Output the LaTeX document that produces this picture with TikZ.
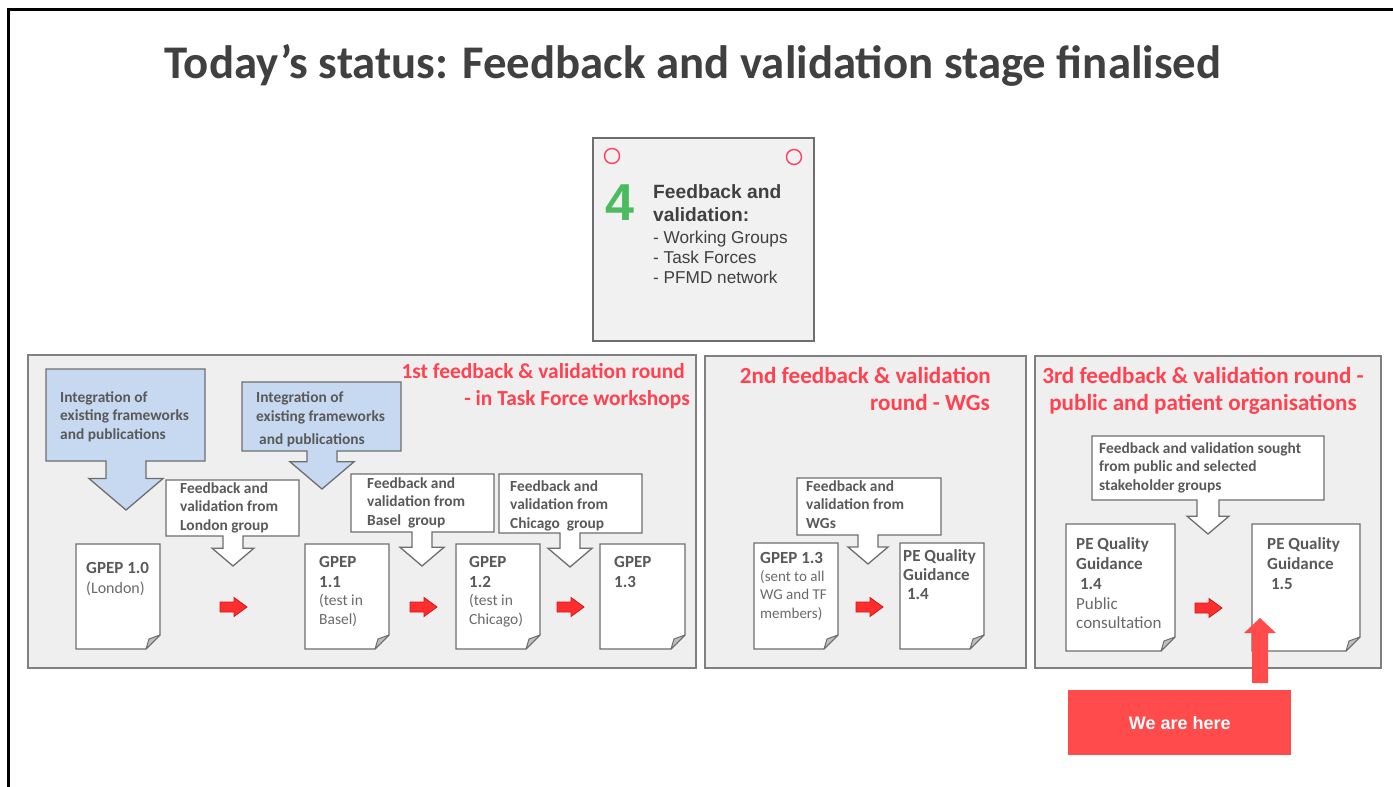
\documentclass[tikz,border=0pt]{standalone}
\usepackage{fontspec}
\setmainfont{Carlito}
\newfontfamily\arialf{Liberation Sans}
\definecolor{panelfill}{HTML}{EFEFEF}
\definecolor{panelline}{HTML}{808080}
\definecolor{callline}{HTML}{6E6E6E}
\definecolor{callblue}{HTML}{C6D9F0}
\definecolor{txtgray}{HTML}{595959}
\definecolor{txtlight}{HTML}{6A6A6A}
\definecolor{titlegray}{HTML}{404040}
\definecolor{roundred}{HTML}{FF4150}
\definecolor{arrred}{HTML}{FF2E2E}
\definecolor{arrredline}{HTML}{D01818}
\definecolor{herered}{HTML}{FF4B4B}
\definecolor{fourgreen}{HTML}{4CBB5F}
\definecolor{circred}{HTML}{FF4060}
\definecolor{foldgray}{HTML}{BFBFBF}
\tikzset{
  panel/.style={draw=panelline, fill=panelfill, line width=1.4pt, inner sep=0pt, outer sep=0pt, anchor=north west},
  bluecall/.style={draw=callline, fill=callblue, line width=1.3pt, line join=miter},
  whitecall/.style={draw=callline, fill=white, line width=1.3pt, line join=miter},
  docshape/.style={draw=callline, fill=white, line width=1.3pt},
  ctext/.style={anchor=base west, inner sep=0pt, align=left, text=txtgray, font=\fontsize{15.4}{18.5}\selectfont\bfseries},
  dtext/.style={anchor=base west, inner sep=0pt, align=left, text=txtgray, font=\fontsize{17}{20}\selectfont\bfseries},
  dreg/.style={anchor=base west, inner sep=0pt, align=left, text=txtlight, font=\fontsize{16}{19}\selectfont},
  roundtitle/.style={inner sep=0pt, text=roundred, font=\fontsize{21.4}{26}\selectfont\bfseries},
  roundtitlebig/.style={inner sep=0pt, text=roundred, font=\fontsize{23.1}{27}\selectfont\bfseries},
  smallarrow/.style={fill=arrred, draw=arrredline, line width=0.8pt},
}
% down callout: style, x1, y1, x2, y2, cx, stem half, head half, tip y
\newcommand{\dcallout}[9]{%
  \path[#1] (#2,#3) -- (#4,#3) -- (#4,#5) -- ({#6+#7},#5) -- ({#6+#7},{#9-0.85*#8}) -- ({#6+#8},{#9-0.85*#8})
    -- (#6,#9) -- ({#6-#8},{#9-0.85*#8}) -- ({#6-#7},{#9-0.85*#8}) -- ({#6-#7},#5) -- (#2,#5) -- cycle;}
% document page with folded corner: x1,y1,x2,y2
\newcommand{\docpage}[4]{%
  \path[docshape] (#1,#2) -- (#3,#2) -- (#3,{#4-14}) -- ({#3-14},#4) -- (#1,#4) -- cycle;
  \path[draw=callline, fill=foldgray, line width=1pt, line join=round] (#3,{#4-14}) -- ({#3-14},#4) -- ({#3-11},{#4-10}) -- cycle;}
% small right block arrow centred at cx,cy
\newcommand{\redarrow}[2]{%
  \path[smallarrow] ({#1-13},{#2-5}) -- ({#1+1},{#2-5}) -- ({#1+1},{#2-9.5}) -- ({#1+14},#2) -- ({#1+1},{#2+9.5})
    -- ({#1+1},{#2+5}) -- ({#1-13},{#2+5}) -- cycle;}
\begin{document}
\begin{tikzpicture}[x=1pt,y=-1pt]
\useasboundingbox (0,0) rectangle (1393,787);
\fill[white] (0,0) rectangle (1393,787);
% frame
\draw[line width=3pt, black] (1393,9) -- (8,9) -- (8,787);

% title
\node (title) [anchor=base, inner sep=0pt, text=titlegray, font=\fontsize{46.8}{56}\selectfont\bfseries] at (693,78)
  {Today’s status: Feedback and validation stage finalised};

% stage box
\node (stage) [panel, draw=callline, fill=panelfill!85!white, minimum width=221pt, minimum height=203pt] at (593,138) {};
\draw[circred, line width=1.4pt] (612,156) circle (7.5);
\draw[circred, line width=1.4pt] (794,157) circle (7.5);
\node (four) [anchor=base west, inner sep=0pt, text=fourgreen, font=\arialf\fontsize{52}{52}\selectfont\bfseries] at (605,220) {4};
\node (stagehead) [anchor=base west, inner sep=0pt, align=left, text=titlegray, font=\arialf\fontsize{19.2}{23}\selectfont\bfseries] at (653,221) {Feedback and\\validation:};
\node (stagelist) [anchor=base west, inner sep=0pt, align=left, text=titlegray, font=\arialf\fontsize{17.2}{20}\selectfont] at (653,283) {- Working Groups\\- Task Forces\\- PFMD network};

% panels
\node (p1) [panel, minimum width=668pt, minimum height=313pt] at (28,355) {};
\node (p2) [panel, minimum width=321pt, minimum height=312pt] at (705,356) {};
\node (p3) [panel, minimum width=346pt, minimum height=312pt] at (1035,356) {};

% panel titles
\node (r1a) [roundtitle, anchor=base east] at (685,378) {1st feedback \& validation round};
\node (r1b) [roundtitle, anchor=base east] at (690,405) {- in Task Force workshops};
\node (r2a) [roundtitlebig, anchor=base east] at (991,383) {2nd feedback \& validation};
\node (r2b) [roundtitlebig, anchor=base east] at (990,410) {round - WGs};
\node (r3a) [roundtitlebig, anchor=base] at (1203,383) {3rd feedback \& validation round -};
\node (r3b) [roundtitlebig, anchor=base] at (1203,410) {public and patient organisations};

% panel 1 callouts
\dcallout{bluecall}{46}{369}{205}{461}{126}{20}{37}{510}
\node (int1) [ctext] at (60,439) {Integration of\\existing frameworks\\and publications};
\dcallout{bluecall}{242}{382}{401}{451}{322}{15}{32}{489}
\node (int2) [ctext] at (256,421) {Integration of\\existing frameworks};
\node (int2b) [ctext] at (259,444) {and publications};
\dcallout{whitecall}{166}{480}{299}{536}{233}{10}{21}{566}
\node (fbl) [ctext] at (180,530) {Feedback and\\validation from\\London group};
\dcallout{whitecall}{351}{474}{494}{532}{422}{10}{22}{566}
\node (fbb) [ctext] at (367,525) {Feedback and\\validation from\\Basel\ \ group};
\dcallout{whitecall}{499}{474}{642}{533}{570}{10}{22}{567}
\node (fbc) [ctext] at (510,528) {Feedback and\\validation from\\Chicago\ \ group};

% panel 1 documents
\docpage{76}{544}{160}{649}
\node (g10) [dtext] at (86,573) {GPEP 1.0};
\node (g10b) [dreg] at (86,593) {(London)};
\docpage{305}{544}{389}{649}
\node (g11) [dtext] at (319,587) {GPEP\\1.1};
\node (g11b) [dreg, font=\fontsize{15.5}{18.5}\selectfont] at (319,624) {(test in\\Basel)};
\docpage{456}{544}{540}{649}
\node (g12) [dtext] at (469,587) {GPEP\\1.2};
\node (g12b) [dreg, font=\fontsize{15.5}{18.5}\selectfont] at (469,624) {(test in\\Chicago)};
\docpage{600}{544}{685}{649}
\node (g13) [dtext] at (614,587) {GPEP\\1.3};

\redarrow{233}{607}
\redarrow{423}{607}
\redarrow{570}{607}

% panel 2
\dcallout{whitecall}{797}{478}{941}{535}{868}{10}{20}{564}
\node (fbw) [ctext] at (806,528) {Feedback and\\validation from\\WGs};
\docpage{754}{543}{838}{649}
\node (g13w) [dtext] at (760,563) {GPEP 1.3};
\node (g13wb) [dreg, font=\fontsize{15}{18.5}\selectfont] at (760,618) {(sent to all\\WG and TF\\members)};
\docpage{900}{543}{984}{649}
\node (pe14) [dtext, font=\fontsize{17}{18.7}\selectfont\bfseries] at (903,599) {PE Quality\\Guidance\\\ 1.4};
\redarrow{869}{607}

% panel 3
\dcallout{whitecall}{1092}{436}{1324}{500}{1208}{11}{21}{534}
\node (fbp) [ctext] at (1099,490) {Feedback and validation sought\\from public and selected\\stakeholder groups};
\docpage{1066}{524}{1175}{651}
\node (pe14p) [dtext] at (1076,589) {PE Quality\\Guidance\\\ 1.4};
\node (pe14pb) [dreg, font=\fontsize{17}{19}\selectfont] at (1076,628) {Public\\consultation};
\docpage{1252}{524}{1360}{651}
\node (pe15) [dtext] at (1267,589) {PE Quality\\Guidance\\\ 1.5};
\redarrow{1208}{608}

% we are here
\node (here) [anchor=north west, fill=herered, minimum width=223pt, minimum height=65pt, inner sep=0pt, text=white, font=\arialf\fontsize{18}{22}\selectfont\bfseries] at (1068,690) {We are here};
\path[fill=herered] (1252,683) -- (1252,633) -- (1244,633) -- (1260,618) -- (1276,633) -- (1268,633) -- (1268,683) -- cycle;
\end{tikzpicture}
\end{document}
